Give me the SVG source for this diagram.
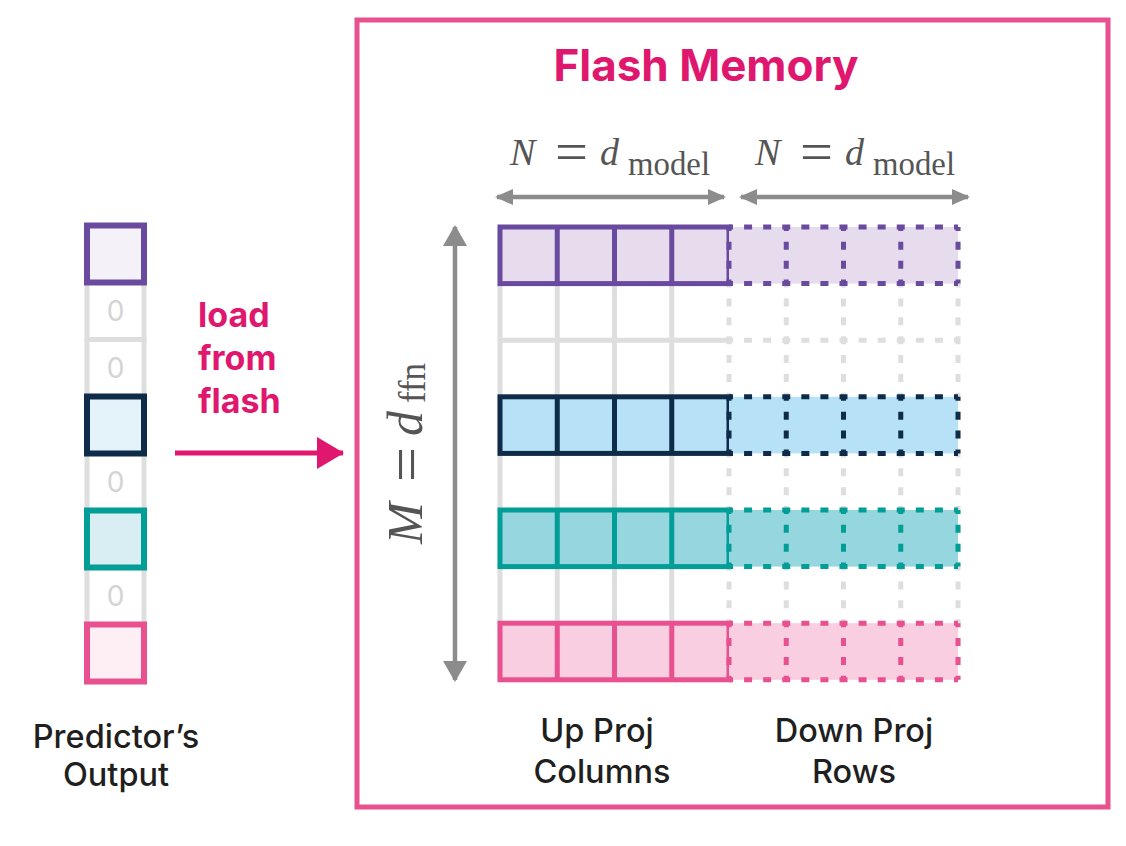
<svg xmlns="http://www.w3.org/2000/svg" width="1126" height="846" viewBox="0 0 1126 846">
<style>
.sans{font-family:Inter,"Noto Sans","Liberation Sans",sans-serif}
.lbl{font-size:32.5px;font-weight:500;fill:#1f1f1f;text-anchor:middle}
.math{font-family:"Liberation Serif","DejaVu Serif",serif;fill:#555555}
.it{font-style:italic}
.gs{stroke:#dedede;stroke-width:5;fill:none}
.gh{stroke:#dedede;stroke-width:5;fill:none;stroke-dasharray:8 11.083;stroke-dashoffset:4}
.gv{stroke:#dedede;stroke-width:5;fill:none;stroke-dasharray:8 10.867;stroke-dashoffset:4}
.dh{stroke-width:5;fill:none;stroke-dasharray:8 11.083;stroke-dashoffset:4}
.dv{stroke-width:5;fill:none;stroke-dasharray:8 10.867;stroke-dashoffset:4}
.zero{font-size:28px;fill:#d4d4d4;text-anchor:middle}
.pcell{stroke:#dedede;stroke-width:5;fill:#ffffff}
.purple{stroke:#6a4a9e}
.navy{stroke:#0e2b49}
.teal{stroke:#009e96}
.pink{stroke:#e8508f}
.arrow{stroke:#8c8c8c;stroke-width:4.5;fill:none}
.flash{font-size:34px;font-weight:700;fill:#e0176e}
</style>
<defs>
<marker id="gh" markerUnits="userSpaceOnUse" markerWidth="18" markerHeight="18" refX="16" refY="8" orient="auto-start-reverse" viewBox="0 0 18 16"><path d="M0,0 L18,8 L0,16 Z" fill="#8c8c8c"/></marker>
<marker id="gv" markerUnits="userSpaceOnUse" markerWidth="24" markerHeight="24" refX="19" refY="12" orient="auto-start-reverse" viewBox="0 0 21 24"><path d="M0,0 L21,12 L0,24 Z" fill="#8c8c8c"/></marker>
<marker id="pk" markerUnits="userSpaceOnUse" markerWidth="28" markerHeight="32" refX="26" refY="16" orient="auto" viewBox="0 0 27 32"><path d="M0,0 L27,16 L0,32 Z" fill="#e0176e"/></marker>
</defs>
<rect width="1126" height="846" fill="#ffffff"/>

<g id="flash-memory-frame">
<rect x="357" y="20" width="751" height="787" fill="none" stroke="#e8508f" stroke-width="5"/>
<text class="sans" x="706" y="81" font-size="44" font-weight="700" fill="#e0176e" text-anchor="middle">Flash Memory</text>
</g>

<g id="predictor-output">
<rect class="pcell" x="87" y="282.5" width="57" height="57"/>
<rect class="pcell" x="87" y="339.5" width="57" height="57"/>
<rect class="pcell" x="87" y="453.5" width="57" height="57"/>
<rect class="pcell" x="87" y="567.5" width="57" height="57"/>
<text class="sans zero" x="115.5" y="321">0</text>
<text class="sans zero" x="115.5" y="378">0</text>
<text class="sans zero" x="115.5" y="492">0</text>
<text class="sans zero" x="115.5" y="606">0</text>
<rect class="purple" x="87" y="225.5" width="57" height="57" fill="#f4f2f8" stroke-width="6"/>
<rect class="navy" x="87" y="396.5" width="57" height="57" fill="#e4f2fa" stroke-width="6"/>
<rect class="teal" x="87" y="510.5" width="57" height="57" fill="#d8eef2" stroke-width="6"/>
<rect class="pink" x="87" y="624.5" width="57" height="57" fill="#fdeff4" stroke-width="6"/>
<text class="sans lbl" x="116" y="748">Predictor’s</text>
<text class="sans lbl" x="116" y="786">Output</text>
</g>

<g id="gray-grid">
<path class="gs" d="M500,227V679.8M557.25,227V679.8M614.5,227V679.8M671.75,227V679.8"/>
<path class="gs" d="M500,283.6H729M500,340.2H729M500,453.4H729M500,566.6H729"/>
<path class="gv" d="M729,227V679.8M786.25,227V679.8M843.5,227V679.8M900.75,227V679.8M958,227V679.8"/>
<path class="gh" d="M729,283.6H958M729,340.2H958M729,453.4H958M729,566.6H958"/>
</g>

<g id="row-purple">
<rect class="purple" x="500" y="227" width="229" height="56.6" fill="#e6dcee" stroke-width="5"/>
<path class="purple" stroke-width="5" d="M557.25,227V283.6M614.5,227V283.6M671.75,227V283.6"/>
<rect x="729" y="227" width="229" height="56.6" fill="#e6dcee"/>
<path class="purple dh" d="M729,227H958M729,283.6H958"/>
<path class="purple dv" d="M729,227V283.6M786.25,227V283.6M843.5,227V283.6M900.75,227V283.6M958,227V283.6"/>
</g>
<g id="row-navy">
<rect class="navy" x="500" y="396.8" width="229" height="56.6" fill="#b7e1f6" stroke-width="5"/>
<path class="navy" stroke-width="5" d="M557.25,396.8V453.4M614.5,396.8V453.4M671.75,396.8V453.4"/>
<rect x="729" y="396.8" width="229" height="56.6" fill="#b7e1f6"/>
<path class="navy dh" d="M729,396.8H958M729,453.4H958"/>
<path class="navy dv" d="M729,396.8V453.4M786.25,396.8V453.4M843.5,396.8V453.4M900.75,396.8V453.4M958,396.8V453.4"/>
</g>
<g id="row-teal">
<rect class="teal" x="500" y="510" width="229" height="56.6" fill="#96d6de" stroke-width="5"/>
<path class="teal" stroke-width="5" d="M557.25,510V566.6M614.5,510V566.6M671.75,510V566.6"/>
<rect x="729" y="510" width="229" height="56.6" fill="#96d6de"/>
<path class="teal dh" d="M729,510H958M729,566.6H958"/>
<path class="teal dv" d="M729,510V566.6M786.25,510V566.6M843.5,510V566.6M900.75,510V566.6M958,510V566.6"/>
</g>
<g id="row-pink">
<rect class="pink" x="500" y="623.2" width="229" height="56.6" fill="#f8cee0" stroke-width="5"/>
<path class="pink" stroke-width="5" d="M557.25,623.2V679.8M614.5,623.2V679.8M671.75,623.2V679.8"/>
<rect x="729" y="623.2" width="229" height="56.6" fill="#f8cee0"/>
<path class="pink dh" d="M729,623.2H958M729,679.8H958"/>
<path class="pink dv" d="M729,623.2V679.8M786.25,623.2V679.8M843.5,623.2V679.8M900.75,623.2V679.8M958,623.2V679.8"/>
</g>

<g id="labels">
<text class="math it" font-size="38" x="510" y="165">N</text>
<text class="math" font-size="56" x="555" y="171" textLength="33" lengthAdjust="spacingAndGlyphs">=</text>
<text class="math it" font-size="38" x="600" y="165">d</text>
<text class="math" font-size="34" x="628" y="175" textLength="82" lengthAdjust="spacingAndGlyphs">model</text>
<text class="math it" font-size="38" x="755" y="165">N</text>
<text class="math" font-size="56" x="800" y="171" textLength="33" lengthAdjust="spacingAndGlyphs">=</text>
<text class="math it" font-size="38" x="845" y="165">d</text>
<text class="math" font-size="34" x="873" y="175" textLength="82" lengthAdjust="spacingAndGlyphs">model</text>
<g transform="translate(422,542) rotate(-90)">
<text class="math it" font-size="50" x="-2" y="0">M</text>
<text class="math" font-size="62" x="60" y="5" textLength="35" lengthAdjust="spacingAndGlyphs">=</text>
<text class="math it" font-size="50" x="106" y="0">d</text>
<text class="math" font-size="38" x="139" y="3" textLength="40" lengthAdjust="spacingAndGlyphs">ffn</text>
</g>
<text class="sans flash" x="198" y="327">load</text>
<text class="sans flash" x="198" y="370">from</text>
<text class="sans flash" x="198" y="413">flash</text>
<text class="sans lbl" x="597" y="742">Up Proj</text>
<text class="sans lbl" x="602" y="783">Columns</text>
<text class="sans lbl" x="854" y="742">Down Proj</text>
<text class="sans lbl" x="854" y="783">Rows</text>
</g>

<g id="connectors">
<line class="arrow" x1="497" y1="197" x2="724" y2="197" marker-start="url(#gh)" marker-end="url(#gh)"/>
<line class="arrow" x1="741" y1="197" x2="968" y2="197" marker-start="url(#gh)" marker-end="url(#gh)"/>
<line class="arrow" x1="455" y1="227" x2="455" y2="680" stroke-width="5" marker-start="url(#gv)" marker-end="url(#gv)"/>
<line x1="175" y1="453" x2="343" y2="453" stroke="#e0176e" stroke-width="5" marker-end="url(#pk)"/>
</g>
</svg>
